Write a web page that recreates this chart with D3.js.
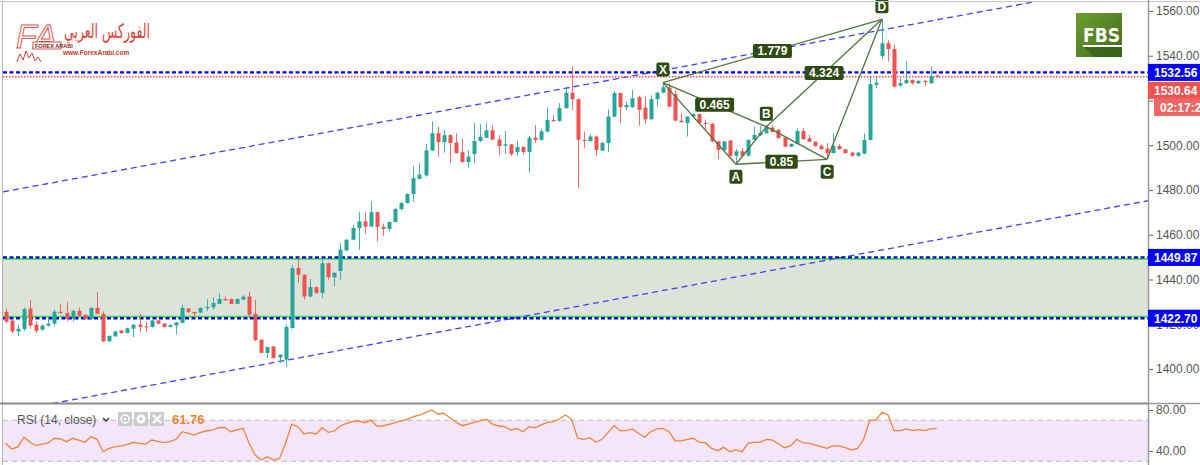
<!DOCTYPE html>
<html>
<head>
<meta charset="utf-8">
<script src="https://cdn.jsdelivr.net/npm/d3@7"></script>
<style>
body { margin: 0; background: #fff; }
svg text { font-family: "Liberation Sans", Arial, sans-serif; }
</style>
</head>
<body>
<div id="chart"></div>
<script>
// candles (one per bar, left to right)
var opens = [1425.5,1421.7,1416.8,1417.9,1427,1419.8,1417.6,1419.4,1420.3,1425.6,1425,1422.5,1426,1424.2,1422.4,1427.3,1424.6,1412.4,1414.6,1417.2,1416.1,1418,1419.8,1419,1418.8,1421.7,1420.3,1418.8,1419.4,1420.6,1427,1425.5,1425.2,1427.2,1427.6,1429.1,1431.3,1431.3,1429.1,1431,1432.4,1424.6,1413.1,1407.2,1410.1,1405.2,1404.2,1418.3,1445.1,1442.1,1432.4,1436.6,1434,1447.3,1441,1443.8,1453,1457.8,1463,1466,1463.7,1470.1,1463.6,1462.6,1465.7,1471.5,1474.2,1478.2,1485,1486.5,1497.6,1505.4,1501.4,1504.5,1501.2,1496.9,1492.5,1496,1501.9,1503.4,1506.7,1502.6,1499.8,1500.4,1497,1499.2,1497,1503.4,1502.4,1506.1,1511.3,1510.9,1516.6,1523.5,1520.6,1502.4,1501.9,1503.9,1497.6,1501,1512.8,1523.3,1517,1517,1521.5,1516.8,1511.6,1520.6,1523.5,1525.9,1522.8,1511,1509.9,1512.8,1513.9,1510,1509.6,1501.7,1497.9,1502.1,1495.3,1497.3,1495.3,1502.4,1504.4,1505.4,1507.9,1506.9,1503.4,1499.4,1500.6,1506.4,1503.1,1501.6,1499.7,1498.5,1496.5,1499.7,1498.2,1496.7,1495.3,1496.2,1502.4,1527,1539.9,1545.6,1543,1526.7,1527.7,1529.1,1527.7,1528.8,1527.7,1531.2];
var highs = [1427,1422,1419.8,1427.5,1430.7,1421.3,1420,1422.8,1426.5,1429,1430,1426.5,1427.5,1424.5,1427.5,1434.3,1425.8,1415,1417,1417.5,1418.5,1420,1424.7,1421.2,1422,1422,1420.5,1420,1421,1428.8,1427.3,1425.6,1427.5,1431.2,1432,1433.8,1432.5,1431.5,1431.5,1433,1434.5,1430.9,1413.3,1410,1410.3,1406.6,1420,1446.5,1449.6,1442.3,1440.2,1437,1449.5,1447.5,1443.2,1456.3,1458,1464.5,1470.1,1470,1474.9,1470.4,1465,1466,1472,1474.5,1478.5,1490.8,1492,1500.7,1510.7,1508.3,1506.9,1505,1505.3,1502.8,1497.8,1509.9,1509.5,1509.9,1508.9,1504.6,1506.4,1500.6,1502,1499.5,1504.2,1509.1,1507.3,1517,1513.6,1518.8,1526,1535.2,1521,1506.1,1505,1504,1501.5,1516,1524.3,1523.5,1519.5,1524.7,1522,1521.7,1522.3,1524,1527.8,1527.8,1524.5,1514.3,1513,1514.2,1514.2,1511.5,1510,1502,1502,1502.4,1498.3,1498.8,1502.6,1508.4,1508.7,1508.9,1509,1507.2,1503.6,1500.8,1507.6,1507.6,1504.6,1501.8,1500.5,1501,1505.4,1500.5,1498.4,1497,1497,1505.3,1530.7,1530.7,1556.7,1547,1545,1530,1537.4,1529.4,1529,1529,1535.2,1531.5];
var lows = [1420.5,1416,1414.6,1417,1418,1416,1417,1419,1419.2,1424.8,1421.3,1421.3,1423.5,1422,1422,1424.5,1412,1412,1414.4,1415.8,1416,1414.3,1416.4,1416.4,1418.5,1420,1418.5,1418.6,1415.4,1420.4,1425,1422.8,1425,1425.8,1426.5,1429,1430.5,1429,1429,1430.8,1422.8,1412.5,1407,1404.9,1404.7,1402.7,1401,1418,1438.4,1431,1432,1433.5,1431.7,1439.9,1437,1439.9,1452.8,1457.5,1453.3,1460.4,1463.5,1457,1459.3,1461.5,1465.5,1471,1474,1474.8,1484.7,1486,1497.3,1494.7,1496.7,1492,1496.3,1492.3,1490,1492.1,1501.4,1503.2,1502.3,1495.7,1496,1495.3,1495,1496,1487.8,1501,1502,1505.8,1510.5,1510.5,1516.3,1515.8,1480.8,1498.7,1501.5,1495,1497.3,1497,1512.5,1509.9,1515.7,1516.8,1508.7,1509.5,1511.4,1517.3,1523.3,1517,1510.7,1510,1503.9,1512.5,1509.6,1507.3,1501.4,1493.8,1497.6,1495,1492,1495,1495,1502.2,1504.2,1505.2,1505.8,1503,1499.2,1499.2,1500.4,1502.5,1501.4,1499.4,1498,1494,1496.3,1498,1496.3,1494.8,1494.8,1496,1502.2,1525.5,1538.4,1537.5,1525.8,1526,1527.5,1527,1527.3,1526.5,1527.5,1530.3];
var closes = [1421.2,1416.8,1418,1426.8,1419.4,1417.1,1419.4,1420.3,1425.6,1425,1422.5,1426,1423.8,1422.4,1427.3,1424.7,1412.4,1414.8,1416.8,1416,1418.2,1419.8,1418.8,1418.8,1421.7,1420.3,1418.8,1419.6,1420.8,1427.3,1425.5,1424.8,1427.3,1427.8,1429.5,1431.3,1430.7,1429.1,1431.3,1432.4,1424.3,1412.9,1407.2,1409.8,1404.9,1406.4,1418.8,1445.1,1442.1,1432.4,1436.6,1434,1447.3,1441.1,1443,1453.3,1457.8,1463,1466,1463.7,1470.1,1463.5,1462.6,1465.7,1471.5,1474.2,1478.2,1485.3,1486.9,1497.7,1505.4,1501.4,1504.5,1501,1496.5,1492.5,1494.9,1501.9,1503.8,1506.7,1502.5,1499.6,1500.4,1496,1499.2,1497,1503.4,1502.4,1506.2,1511.3,1510.9,1516.6,1523.5,1520.6,1502.4,1501.9,1503.9,1497.9,1501,1512.8,1523.3,1517,1518,1521,1515.8,1511.6,1520.6,1523.5,1525.9,1517.3,1511,1510.3,1512.8,1513.9,1509.9,1509.5,1501.7,1497.9,1501.7,1495.3,1497.3,1495.3,1502.4,1504.6,1505.6,1507.9,1506,1503.2,1499.4,1500.6,1506.4,1502.7,1501.6,1499.6,1498.2,1496.5,1499.7,1498.2,1496.5,1495.3,1496.7,1502.4,1527.3,1528,1545.6,1543,1526.2,1527.7,1529.1,1527.7,1528.8,1528.2,1531,1530.64];

// RSI(14, close), one per bar
var rsiValues = [47.5,42,44,53.4,48.5,45.2,46.8,47.8,52.4,51.7,49.1,52.4,50.7,48.5,54,51.4,39.3,42.6,44.2,44.9,46.5,48.5,47.5,46.8,50.7,49.5,48.1,49.1,51.4,58.8,57.3,55.6,58.2,59.5,60.5,62.7,63.1,58.8,60.5,62.1,47.5,36.1,31.2,34.4,31.2,32.8,47.5,66.3,63.7,56.6,57.9,56.6,62.7,58.2,59.5,64.4,67,68.6,69.3,67.6,70.2,64.4,64.4,66,67.6,69.5,70.9,73.5,75.1,77.4,80,76.1,76.8,72.5,68,64.7,66.3,68,69.3,70.9,66.3,64.4,63.7,60.5,62.1,58.8,63.7,62.7,65.4,68,68.6,71.2,75.1,70.9,52.4,51.4,53,48.5,51.4,58.2,64.7,59.8,59.8,61.5,57.3,53.4,58.8,61.5,62.1,58.8,49.8,49.8,51.4,52.4,48.5,48.1,42.6,40.3,43.6,39.3,41,39.3,47.5,48.5,48.5,51.4,50.7,47,43.2,44.9,51.4,48.1,47.5,45.9,44.2,42.6,45.2,44.9,43.2,41,42.6,51.4,70.2,70.2,77.8,75.1,59.8,59.8,61.5,59.8,60.8,59.8,61.5,61.76];

var priceTicks = [1400,1420,1440,1460,1480,1500,1520,1540,1560];
var rsiTicks = [40,80];
var rsiBand = [30,70];
var hLevels = [1532.56,1449.87,1422.70];
var lastPrice = 1530.64;
var countdown = "02:17:2";
var zoneTop = 1449.2, zoneBottom = 1423.4;

// harmonic pattern
var patternNames = ["X","A","B","C","D"];
var patternIdx = [108,120,125,135,144];
var patternPrice = [1528,1491.5,1508.3,1493.7,1556.3];
var patternLegs = [[0,1],[1,2],[2,3],[3,4],[0,2],[1,3],[2,4],[0,4]];
var patternAbove = [true,false,true,false,true];
var ratioPairs = [[0,4],[2,4],[0,2],[1,3]];
var ratioLabels = ["1.779","4.324","0.465","0.85"];

// parallel channel (bar index, price)
var channelUpper = [[-1,1478.9],[153.5,1556.3]];
var channelLower = [[29.2,1395.4],[58.2,1410]];

var W = 1200, H = 465;
var plotL = 3, plotR = 1148, plotT = 2, plotB = 403;
var green = "#26a69a", red = "#ef5350";

var svg = d3.select("#chart").append("svg")
  .attr("width", W)
  .attr("height", H);

var data = opens.map(function (o, i) {
  return {i: i, o: o, h: highs[i], l: lows[i], c: closes[i]};
});

var x = d3.scaleLinear().domain([0, data.length - 1]).range([5.7, 936.7]);
var y = d3.scaleLinear().domain([1400, 1560]).range([369, 11]);
var yR = d3.scaleLinear().domain([40, 80]).range([451, 410]);

svg.append("clipPath").attr("id", "pclip")
  .append("rect").attr("x", plotL).attr("y", plotT).attr("width", plotR - plotL).attr("height", plotB - plotT);

var pane = svg.append("g").attr("clip-path", "url(#pclip)");

// support / resistance zone
pane.append("rect")
  .attr("x", plotL).attr("width", plotR - plotL)
  .attr("y", y(zoneTop)).attr("height", y(zoneBottom) - y(zoneTop))
  .attr("fill", "#dde3d9");
pane.selectAll("line.zone")
  .data([zoneTop, zoneBottom])
  .enter().append("line")
  .attr("class", "zone")
  .attr("x1", plotL).attr("x2", plotR)
  .attr("y1", d => y(d)).attr("y2", d => y(d))
  .attr("stroke", "#3ee03e").attr("stroke-width", 1.6);

// channel lines
function lineAt(pts, i) {
  var s = (pts[1][1] - pts[0][1]) / (pts[1][0] - pts[0][0]);
  return pts[0][1] + (i - pts[0][0]) * s;
}
var iL = x.invert(plotL), iR = x.invert(plotR);
pane.selectAll("line.channel")
  .data([channelUpper, channelLower])
  .enter().append("line")
  .attr("class", "channel")
  .attr("x1", x(iL)).attr("x2", x(iR))
  .attr("y1", d => y(lineAt(d, iL))).attr("y2", d => y(lineAt(d, iR)))
  .attr("stroke", "#4040ff").attr("stroke-width", 1.3)
  .attr("stroke-dasharray", "6,4");

// horizontal levels
pane.selectAll("line.level")
  .data(hLevels)
  .enter().append("line")
  .attr("class", "level")
  .attr("x1", plotL).attr("x2", plotR)
  .attr("y1", d => y(d)).attr("y2", d => y(d))
  .attr("stroke", "#0000ff").attr("stroke-width", 2.4)
  .attr("stroke-dasharray", "4,2.5");

pane.append("line")
  .attr("x1", plotL).attr("x2", plotR)
  .attr("y1", y(lastPrice)).attr("y2", y(lastPrice))
  .attr("stroke", red).attr("stroke-width", 1.4)
  .attr("stroke-dasharray", "1.5,1.5");

// candles
var candles = pane.selectAll("g.candle")
  .data(data)
  .enter().append("g")
  .attr("class", "candle");
candles.append("line")
  .attr("x1", d => Math.round(x(d.i)) + 0.5).attr("x2", d => Math.round(x(d.i)) + 0.5)
  .attr("y1", d => y(d.h)).attr("y2", d => y(d.l))
  .attr("stroke", d => d.c >= d.o ? green : red)
  .attr("stroke-opacity", 0.85)
  .attr("stroke-width", 1);
candles.append("rect")
  .attr("x", d => Math.round(x(d.i)) - 1.5)
  .attr("width", 4)
  .attr("y", d => y(Math.max(d.o, d.c)))
  .attr("height", d => Math.max(1, Math.abs(y(d.o) - y(d.c))))
  .attr("fill", d => d.c >= d.o ? green : red);

// harmonic pattern
var pts = patternIdx.map((d, k) => [x(d), y(patternPrice[k])]);
pane.selectAll("line.leg")
  .data(patternLegs)
  .enter().append("line")
  .attr("class", "leg")
  .attr("x1", d => pts[d[0]][0]).attr("y1", d => pts[d[0]][1])
  .attr("x2", d => pts[d[1]][0]).attr("y2", d => pts[d[1]][1])
  .attr("stroke", "#557240").attr("stroke-width", 1.3);

var boxFill = "#2e4b14";
var ratio = pane.selectAll("g.ratio")
  .data(ratioPairs)
  .enter().append("g")
  .attr("class", "ratio")
  .attr("transform", d => "translate(" + (pts[d[0]][0] + pts[d[1]][0]) / 2 + "," + (pts[d[0]][1] + pts[d[1]][1]) / 2 + ")");
ratio.append("rect")
  .attr("x", (d, k) => -(ratioLabels[k].length * 6.6 + 6) / 2)
  .attr("width", (d, k) => ratioLabels[k].length * 6.6 + 6)
  .attr("y", -7).attr("height", 14).attr("rx", 2)
  .attr("fill", boxFill);
ratio.append("text")
  .attr("text-anchor", "middle").attr("dy", "0.36em")
  .attr("fill", "#fff").style("font-size", "12px").style("font-weight", "bold")
  .text((d, k) => ratioLabels[k]);

var pLab = svg.selectAll("g.plabel")
  .data(patternNames)
  .enter().append("g")
  .attr("class", "plabel")
  .attr("transform", (d, k) => "translate(" + pts[k][0] + "," + (pts[k][1] + (patternAbove[k] ? -13 : 12.5)) + ")");
pLab.append("rect")
  .attr("x", -6.5).attr("width", 13).attr("y", -7).attr("height", 14).attr("rx", 2)
  .attr("fill", boxFill);
pLab.append("text")
  .attr("text-anchor", "middle").attr("dy", "0.36em")
  .attr("fill", "#fff").style("font-size", "12px").style("font-weight", "bold")
  .text(d => d);

// RSI pane
svg.append("rect")
  .attr("x", plotL).attr("width", plotR - plotL)
  .attr("y", yR(rsiBand[1])).attr("height", yR(rsiBand[0]) - yR(rsiBand[1]))
  .attr("fill", "#f3e6fb");
svg.selectAll("line.band")
  .data(rsiBand)
  .enter().append("line")
  .attr("class", "band")
  .attr("x1", plotL).attr("x2", plotR)
  .attr("y1", d => yR(d)).attr("y2", d => yR(d))
  .attr("stroke", "#b8b8b8").attr("stroke-width", 1)
  .attr("stroke-dasharray", "5,4");

var rsiLine = d3.line()
  .x((d, i) => x(i))
  .y(d => yR(d));
svg.append("path")
  .datum(rsiValues)
  .attr("d", rsiLine)
  .attr("fill", "none")
  .attr("stroke", "#f5823a")
  .attr("stroke-width", 1.3);

// RSI legend
var leg = svg.append("g").attr("transform", "translate(17,424)");
leg.append("text").attr("fill", "#555").style("font-size", "12px").text("RSI (14, close)");
leg.append("path").attr("d", "M86,-6 l3,3 l3,-3").attr("fill", "none").attr("stroke", "#333").attr("stroke-width", 1.3);
[101, 117, 133].forEach(function (bx, k) {
  leg.append("rect").attr("x", bx).attr("y", -12).attr("width", 14).attr("height", 14).attr("rx", 1).attr("fill", "#cbcbcb");
  if (k == 0) {
    leg.append("circle").attr("cx", bx + 7).attr("cy", -5).attr("r", 4).attr("fill", "none").attr("stroke", "#fff").attr("stroke-width", 1.4);
    leg.append("circle").attr("cx", bx + 7).attr("cy", -5).attr("r", 1.3).attr("fill", "#fff");
  } else if (k == 1) {
    leg.append("circle").attr("cx", bx + 7).attr("cy", -5).attr("r", 4.5).attr("fill", "#fff");
    leg.append("circle").attr("cx", bx + 7).attr("cy", -5).attr("r", 1.8).attr("fill", "#cbcbcb");
  } else {
    leg.append("path").attr("d", "M" + (bx + 3) + ",-9 l8,8 M" + (bx + 11) + ",-9 l-8,8").attr("stroke", "#fff").attr("stroke-width", 2);
  }
});
leg.append("text").attr("x", 155).attr("fill", "#f5822f").style("font-size", "13px").style("font-weight", "bold")
  .text(d3.format(".2f")(rsiValues[rsiValues.length - 1]));

// frame
svg.append("line").attr("x1", 0).attr("x2", W).attr("y1", 1.5).attr("y2", 1.5).attr("stroke", "#c4c4c4");
svg.append("line").attr("x1", 2.5).attr("x2", 2.5).attr("y1", 1).attr("y2", H).attr("stroke", "#b5b5b5");
svg.append("line").attr("x1", 0).attr("x2", plotR).attr("y1", plotB + 0.5).attr("y2", plotB + 0.5).attr("stroke", "#8a8a8a").attr("stroke-width", 2);
svg.append("line").attr("x1", plotR + 0.5).attr("x2", plotR + 0.5).attr("y1", 0).attr("y2", H).attr("stroke", "#9a9a9a").attr("stroke-width", 1.5);
svg.append("line").attr("x1", plotR).attr("x2", W).attr("y1", plotB + 0.5).attr("y2", plotB + 0.5).attr("stroke", "#9a9a9a").attr("stroke-width", 1.5);

// right axes
var yAxis = d3.axisRight(y).tickValues(priceTicks).tickSize(4).tickPadding(3).tickFormat(d3.format(".2f"));
var ag = svg.append("g").attr("transform", "translate(" + (plotR + 1) + ",0)").call(yAxis);
var rAxis = d3.axisRight(yR).tickValues(rsiTicks).tickSize(4).tickPadding(3).tickFormat(d3.format(".2f"));
var rg = svg.append("g").attr("transform", "translate(" + (plotR + 1) + ",0)").call(rAxis);
[ag, rg].forEach(function (g) {
  g.select(".domain").remove();
  g.selectAll(".tick line").attr("stroke", "#666");
  g.selectAll(".tick text").attr("fill", "#555").style("font-size", "12px").style("font-family", "'Liberation Sans', Arial, sans-serif");
});

// price badges
var badges = [
  {v: hLevels[0], t: d3.format(".2f")(hLevels[0]), fill: "#0000ff", cy: y(hLevels[0]), x0: plotR},
  {v: lastPrice, t: d3.format(".2f")(lastPrice), fill: "#ef5350", cy: y(hLevels[0]) + 18, x0: plotR},
  {v: lastPrice, t: countdown, fill: "#f26562", cy: y(hLevels[0]) + 35, x0: plotR + 6},
  {v: hLevels[1], t: d3.format(".2f")(hLevels[1]), fill: "#0000ff", cy: y(hLevels[1]), x0: plotR},
  {v: hLevels[2], t: d3.format(".2f")(hLevels[2]), fill: "#0000ff", cy: y(hLevels[2]), x0: plotR}
];
var bg = svg.selectAll("g.badge")
  .data(badges)
  .enter().append("g")
  .attr("class", "badge");
bg.append("rect")
  .attr("x", d => d.x0).attr("width", d => W - d.x0)
  .attr("y", d => d.cy - 8.5).attr("height", 17)
  .attr("fill", d => d.fill);
bg.append("text")
  .attr("x", d => d.x0 + 6).attr("y", d => d.cy).attr("dy", "0.36em")
  .attr("fill", "#fff").style("font-size", "12px").style("font-weight", "bold")
  .text(d => d.t);

// FBS logo
var defs = svg.append("defs");
var gr = defs.append("linearGradient").attr("id", "fbsg").attr("x1", 0).attr("y1", 0).attr("x2", 1).attr("y2", 1);
gr.append("stop").attr("offset", 0).attr("stop-color", "#6f9d30");
gr.append("stop").attr("offset", 1).attr("stop-color", "#3e6b1c");
var fbs = svg.append("g").attr("transform", "translate(1076,13)");
fbs.append("rect").attr("width", 46).attr("height", 44).attr("fill", "url(#fbsg)");
fbs.append("path").attr("d", "M8,34 L46,34 L46,44 L18,44 Z").attr("fill", "#3a5f1a").attr("opacity", 0.8);
fbs.append("text").attr("x", 7).attr("y", 29).attr("fill", "#fff")
  .style("font-size", "19px").style("font-weight", "bold").style("font-family", "'DejaVu Sans Condensed','DejaVu Sans',sans-serif").text("FBS");
fbs.append("rect").attr("x", 7).attr("y", 32).attr("width", 39).attr("height", 2).attr("fill", "#fff");

// Forex Arabi logo
var lg = svg.append("g");
lg.append("text").attr("x", 16).attr("y", 48).attr("fill", "none").attr("stroke", "#d9534f").attr("stroke-width", 1)
  .style("font-size", "34px").style("font-style", "italic").text("FA");
lg.append("rect").attr("x", 33).attr("y", 42).attr("width", 28).attr("height", 7).attr("fill", "#fff").attr("stroke", "#b33").attr("stroke-width", 0.8);
lg.append("text").attr("x", 35).attr("y", 48).attr("fill", "#822").style("font-size", "5.5px").style("font-weight", "bold").text("FOREX ARABI");
lg.append("text").attr("x", 64).attr("y", 38).attr("textLength", 86).attr("lengthAdjust", "spacingAndGlyphs")
  .attr("fill", "#e0403a")
  .style("font-size", "20px").style("font-family", "'DejaVu Sans',sans-serif").text("الفوركس العربي");
lg.append("text").attr("x", 63).attr("y", 55).attr("fill", "#c0392b").style("font-size", "6.5px").style("font-weight", "bold").text("www.ForexArabi.com");
lg.append("path").attr("d", "M17,62 l3,-8 l3,6 l3,-9 l3,7 l3,-5 l3,8 l3,-4 l3,5").attr("fill", "none").attr("stroke", "#c44").attr("stroke-width", 1);
</script>
</body>
</html>
